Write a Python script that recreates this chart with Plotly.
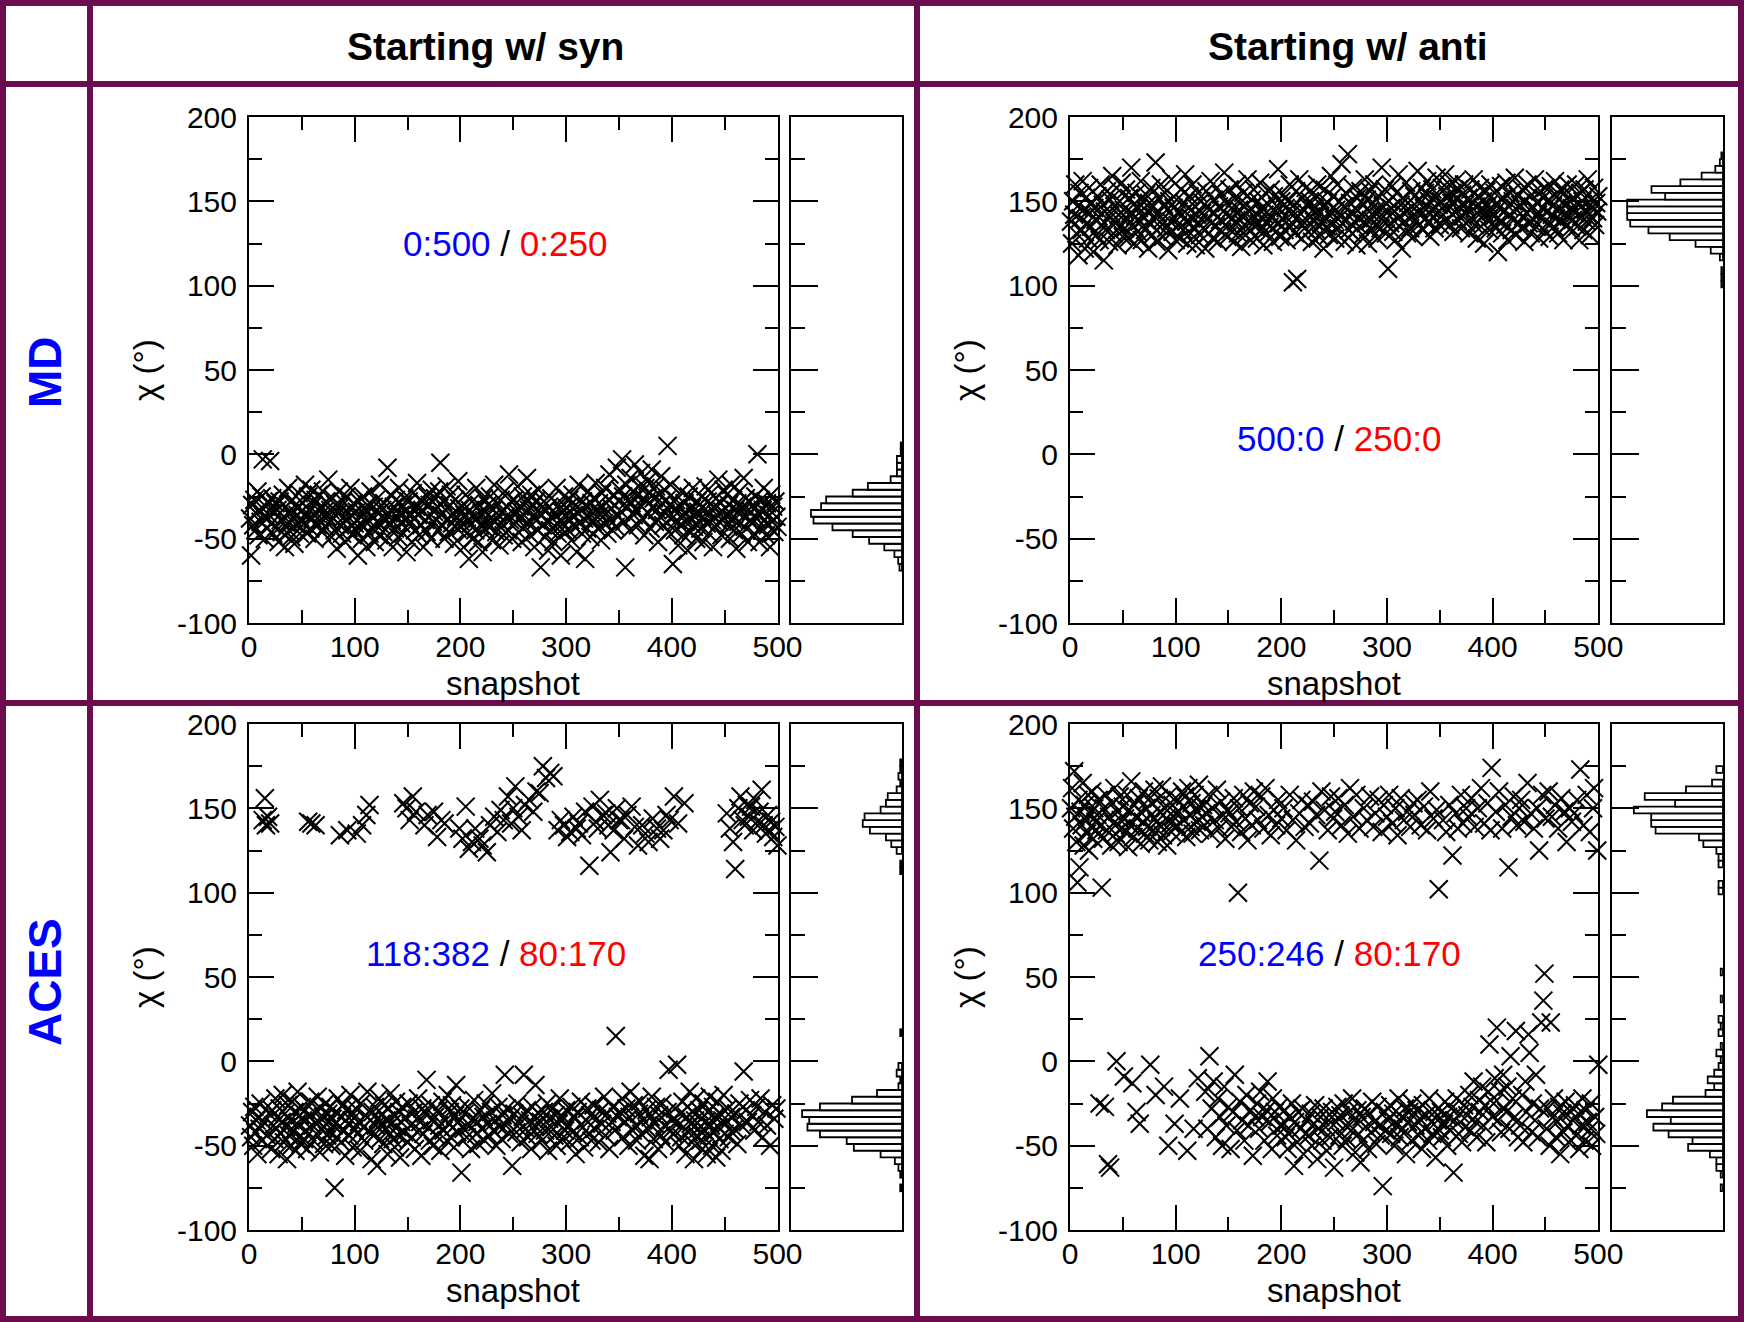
import numpy as np
import plotly.graph_objects as go

# ---------------- data (chi angle in degrees, one value per snapshot) ----------------
md_syn_chi = [
 -38,-60,-30,-42,-27,-45,-35,-22,-48,-33,-40,-25,-3,-37,-50,-31,-44,-28,-36,-4,-41,-26,-47,-34,-29,
 -43,-33,-52,-28,-39,-46,-24,-37,-55,-31,-41,-20,-45,-35,-49,-27,-38,-53,-30,-42,-36,-23,-47,-34,-40,
 -29,-41,-18,-36,-47,-25,-33,-44,-21,-38,-30,-50,-27,-35,-42,-24,-39,-31,-46,-22,-34,-43,-28,-37,-15,
 -40,-33,-49,-26,-38,-45,-30,-56,-35,-22,-42,-31,-47,-28,-37,-52,-25,-39,-44,-32,-20,-36,-48,-29,-41,
 -45,-34,-60,-28,-41,-37,-50,-25,-43,-33,-55,-30,-39,-47,-22,-36,-44,-31,-52,-27,-40,-35,-48,-18,-42,
 -33,-46,-29,-38,-51,-8,-35,-42,-24,-39,-55,-31,-44,-27,-37,-49,-20,-36,-41,-30,-47,-26,-34,-58,-38,
 -28,-41,-35,-52,-23,-38,-45,-31,-17,-36,-48,-27,-42,-33,-55,-29,-39,-46,-25,-37,-30,-50,-21,-40,-34,
 -26,-39,-31,-45,-22,-5,-36,-42,-28,-50,-33,-19,-38,-46,-30,-24,-41,-35,-53,-27,-37,-44,-16,-32,-40,
 -43,-31,-55,-36,-24,-47,-39,-62,-33,-41,-28,-50,-37,-45,-20,-38,-52,-30,-42,-35,-58,-26,-44,-34,-40,
 -30,-43,-25,-38,-51,-33,-18,-40,-46,-29,-36,-54,-27,-41,-34,-48,-22,-37,-31,-45,-12,-39,-28,-50,-35,
 -27,-40,-34,-19,-46,-31,-38,-52,-25,-36,-43,-29,-14,-41,-33,-48,-24,-37,-30,-55,-28,-39,-45,-21,-35,
 -67,-36,-42,-28,-49,-33,-40,-57,-31,-45,-26,-38,-52,-35,-43,-20,-47,-30,-39,-60,-34,-41,-25,-46,-37,
 -32,-45,-27,-39,-51,-24,-36,-43,-30,-58,-35,-18,-41,-33,-47,-28,-38,-62,-31,-44,-22,-37,-49,-29,-40,
 -26,-38,-17,-33,-44,-29,-36,-51,-23,-31,-41,-20,-35,-47,-27,-12,-39,-32,-45,-24,-30,-43,-8,-37,-28,
 -21,-34,-3,-25,-40,-67,-18,-31,-27,-45,-14,-29,-22,-36,-6,-33,-24,-42,-19,-30,-11,-38,-26,-48,-20,
 -28,-16,-35,-23,-44,-9,-31,-26,-40,-19,-33,-52,-24,-37,-13,-29,-42,-21,-35,-27,5,-46,-30,-18,-38,
 -65,-33,-45,-27,-39,-54,-31,-42,-22,-36,-48,-29,-40,-35,-57,-25,-38,-46,-32,-20,-43,-37,-50,-28,-34,
 -30,-44,-25,-37,-52,-33,-19,-41,-28,-47,-35,-23,-39,-55,-31,-43,-26,-36,-15,-40,-29,-48,-34,-21,-38,
 -36,-24,-42,-30,-50,-18,-38,-27,-45,-33,-56,-29,-40,-22,-35,-47,-31,-14,-43,-26,-37,-52,-28,-39,-34,
 -41,-30,-47,-25,-38,0,-35,-52,-27,-44,-33,-20,-39,-48,-29,-42,-36,-55,-24,-40,-31,-46,-28,-37,-43,
]

md_anti_chi = [
 138,125,150,142,160,131,147,118,155,140,133,162,145,122,152,137,128,158,143,135,149,120,146,139,130,
 153,141,127,160,136,148,115,144,133,156,139,126,151,143,165,131,147,137,158,124,142,150,135,161,129,
 145,134,157,140,128,152,143,170,136,148,125,141,155,132,146,138,162,127,150,140,133,154,144,122,149,
 137,158,130,147,141,173,126,143,152,135,160,139,129,148,155,134,145,121,150,138,163,132,146,140,127,
 151,136,144,128,157,142,133,149,166,138,125,146,153,131,140,160,135,147,124,142,155,137,130,150,143,
 134,148,122,156,140,131,145,162,137,128,151,143,135,158,126,147,139,154,132,144,167,136,149,129,141,
 157,133,146,140,126,152,138,160,131,145,149,123,141,155,136,130,148,163,134,144,127,151,139,157,135,
 143,128,150,137,161,133,146,124,142,155,138,131,148,135,157,140,126,153,144,132,147,169,137,129,150,
 140,154,133,146,127,150,139,160,135,143,102,148,131,156,104,141,163,137,128,152,145,134,158,139,147,
 132,150,141,126,155,138,146,133,160,142,129,151,137,147,122,157,140,135,149,130,144,165,136,153,139,
 128,145,160,134,150,141,172,137,147,126,155,139,178,133,149,143,131,158,138,146,124,152,140,135,156,
 142,130,148,163,137,151,125,144,156,139,133,149,160,136,145,128,153,141,134,170,147,138,157,131,143,
 110,150,137,146,159,132,144,127,155,140,166,135,148,122,152,143,138,161,131,149,145,134,156,141,129,
 153,139,147,168,136,151,142,158,133,146,155,140,162,137,150,129,145,157,141,134,152,164,143,148,136,
 150,158,142,147,166,138,153,145,160,136,149,155,132,144,162,151,139,157,146,134,154,141,160,148,137,
 145,152,131,157,140,149,163,136,147,128,153,142,158,135,146,150,125,143,156,139,148,133,160,144,137,
 141,155,134,149,120,146,138,159,131,152,144,136,161,127,147,142,155,133,150,139,164,130,145,153,137,
 148,134,157,141,126,150,143,160,137,145,131,154,147,139,163,135,149,142,128,156,140,146,152,133,158,
 144,137,151,129,159,142,147,135,162,140,153,131,145,157,138,149,127,155,143,136,160,141,150,134,146,
 139,152,143,160,135,148,127,155,141,150,133,157,145,138,163,142,130,151,146,140,158,136,149,144,153,
]

aces_syn_chi = [
 -38,-45,-30,-50,-27,-42,-35,-55,-33,-40,-25,-47,143,-36,156,140,-44,145,-31,141,-52,-29,-38,-46,-22,
 -40,-33,-55,-28,-43,-36,-20,-48,-31,-39,-58,-26,-44,-35,-50,-24,-41,-30,-53,-37,-18,-45,-32,-49,-27,
 -35,-46,-29,-41,-52,142,-33,-24,141,-38,-47,-30,140,-43,-21,-36,-54,-28,-40,-33,-49,-25,-37,-44,-31,
 -42,-27,-50,-34,-38,-75,-30,-45,-22,-39,134,-48,-33,-26,-41,-56,-29,137,-37,-44,-20,-35,-51,-31,-40,
 -28,135,-43,-36,-53,-25,140,-39,-47,-32,146,-18,-41,152,-35,-58,-30,-44,-27,-38,-62,-34,-22,-46,-37,
 -31,-49,-26,-40,-35,-55,-28,-43,-19,-37,-46,-32,-51,-24,-39,-44,-30,-57,-36,-27,153,-42,-33,150,-48,
 -25,143,-38,-45,157,-30,-52,148,-34,-22,-41,-36,-56,-28,-43,140,-31,-11,146,-39,-47,-26,-35,-50,148,
 -33,-44,133,-29,-38,-53,143,-24,-41,141,-35,-47,-20,-37,-30,-45,-26,-39,-51,-32,-14,-42,-36,138,-28,
 -66,132,-40,-31,151,-45,-27,126,-38,-52,130,-34,-23,138,-43,-36,-49,132,-29,-40,128,-33,-47,-25,124,
 -37,-44,140,-30,-19,-41,145,-35,-50,136,-27,-39,149,-46,-32,143,-8,-38,-28,157,-43,-34,141,-62,150,
 -31,163,-42,-25,145,-37,-48,137,-33,-8,152,-40,-29,-45,155,-35,-52,-27,148,-38,-14,160,-43,-31,159,
 -36,-47,175,-30,-41,168,-25,-53,-34,171,-39,-28,169,-44,-32,-50,137,-37,-22,143,-46,-33,140,-41,-29,
 133,-38,-48,136,-27,-42,145,-33,-55,138,-30,141,-45,-24,134,-39,-51,148,-35,-28,-43,116,-32,-47,151,
 -26,-40,142,-34,138,-48,155,-29,-37,146,-21,-44,147,-31,140,-52,124,-36,-27,137,-41,15,150,-33,143,
 -30,143,-22,-45,132,-36,-28,146,-50,-33,-18,151,-41,-26,139,-38,-47,128,-31,-24,-43,140,-35,-56,135,
 -29,-40,130,-58,-33,-21,144,-46,-37,-27,138,-52,-32,132,-44,-25,137,-38,-48,146,-30,-5,143,-41,-35,
 -43,157,-28,-36,-2,141,-50,-31,-45,-24,-39,153,-55,-33,-27,-42,-18,-37,-48,-30,-58,-35,-22,-44,-40,
 -29,-47,-34,-52,-25,-41,-36,-55,-30,-44,-21,-38,-50,-27,-42,-33,-57,-24,-39,-46,-31,-53,-35,-20,-43,
 -37,147,-28,-45,138,-33,-42,130,-40,114,-31,-49,150,-25,157,-38,143,-6,140,-29,152,-36,145,-23,151,
 -32,137,-41,155,-27,142,-36,148,-22,161,-45,140,-30,135,-38,146,137,-50,142,-26,133,-34,139,-28,128,
]

aces_anti_chi = [
 150,162,138,172,145,130,106,155,115,148,140,165,128,152,143,135,158,125,147,139,160,132,150,142,137,
 146,155,-25,140,103,132,150,-27,158,137,-61,145,-63,128,153,141,162,135,0,148,130,157,143,138,151,
 -9,144,136,158,127,149,140,166,-13,133,152,145,-30,138,156,-37,129,147,142,160,135,150,139,155,131,
 -2,146,153,137,161,-20,142,130,156,148,139,163,134,-15,150,144,128,-50,158,141,136,152,145,-37,147,
 140,155,148,-22,136,160,151,143,157,133,-53,162,146,139,153,135,-40,158,149,142,-10,164,137,150,145,
 152,140,-18,147,-40,158,3,135,-28,150,-12,143,-45,161,-22,138,-33,154,-50,146,-15,132,-38,149,-27,
 147,-52,139,-30,156,-8,142,-41,100,150,-24,136,-35,158,-47,144,-20,131,-38,153,-29,140,-56,160,-33,
 151,-25,143,-40,-18,157,-33,138,-47,162,-29,-12,146,-36,134,-52,-22,149,-30,140,-44,155,-27,-38,144,
 -38,150,-29,-45,137,-52,-33,158,-41,-25,143,-62,-36,131,-48,-30,147,-40,155,-28,-55,139,-43,-35,152,
 -44,141,-31,-50,154,-37,-26,146,-58,-40,119,-33,160,-47,-28,149,-39,-53,137,-35,-45,157,-30,144,-63,
 148,-36,-27,156,-44,-32,140,-50,-25,152,-38,-46,135,-30,162,-41,-22,145,-35,-54,158,-29,-43,138,-60,
 -33,-47,150,-28,-39,143,-52,-31,157,-42,-24,139,-36,147,-49,-27,155,-38,-44,136,-74,152,-30,-41,145,
 -35,158,-26,-43,141,-31,-50,150,-38,134,-22,-45,156,-33,-40,143,-28,-55,148,-36,-30,139,-47,-25,153,
 146,-38,-29,155,-44,-34,140,-52,-26,151,-40,-32,137,-47,-22,160,-36,-43,144,-30,-57,149,-35,102,-41,
 -30,-45,143,-37,-24,136,-50,-33,152,-41,-28,122,-66,-35,147,-22,138,-43,-31,158,-48,141,-26,-39,150,
 -32,145,-20,-41,156,-27,-12,139,-36,-45,150,-23,-30,162,-15,-38,141,-26,-48,153,-18,10,137,174,-33,
 -25,-10,148,20,-35,160,-18,-42,138,-8,-28,152,-30,-15,115,-40,3,145,-22,157,-33,18,140,-45,150,
 -38,155,-20,-48,142,-12,-30,165,16,5,147,-42,-25,138,-35,-8,150,-45,125,-28,23,158,36,52,144,
 -40,-28,160,-50,23,145,-33,-22,152,-45,-36,138,-27,-55,156,-31,-42,148,-24,130,-38,-48,150,-30,142,
 -35,147,-26,-44,155,-31,-52,173,-38,-22,140,-47,-29,158,-36,-41,136,-25,-50,150,162,-33,-43,125,-2,
]

col_titles = ["Starting w/ syn", "Starting w/ anti"]
row_titles = ["MD", "ACES"]
ratio_blue = ["0:500", "500:0", "118:382", "250:246"]
ratio_red = ["0:250", "250:0", "80:170", "80:170"]
ratio_pos = [(242, 125), (255, 9.5), (234, 64), (246, 64)]   # (snapshot, chi) of label centres

snap_tick_vals = [0, 100, 200, 300, 400, 500]
snap_tick_text = ["0", "100", "200", "300", "400", "500"]
snap_minor = [50, 150, 250, 350, 450]
chi_tick_vals = [-100, -50, 0, 50, 100, 150, 200]
chi_tick_text = ["-100", "-50", "0", "50", "100", "150", "200"]
chi_minor = [-75, -25, 25, 75, 125, 175]
hist_edges = np.arange(-101, 205, 4)
hist_peak_frac = [0.82, 0.86, 0.90, 0.80]

# ---------------- layout geometry (pixels) ----------------
W, H = 1744, 1322
FONT = "Liberation Sans, Arial, Helvetica, sans-serif"
FRAME = "#6c0c4c"
fx = lambda p: p / W
fy = lambda p: 1 - p / H

cols = [dict(sx=(249, 777.5), hx=(791, 902)), dict(sx=(1070, 1598.3), hx=(1611.6, 1722.9))]
rows = [(117, 623), (724, 1230)]
series = [md_syn_chi, md_anti_chi, aces_syn_chi, aces_anti_chi]

fig = go.Figure()
layout = dict(template="none", width=W, height=H, autosize=False,
              margin=dict(l=0, r=0, t=0, b=0, pad=0),
              paper_bgcolor="white", plot_bgcolor="white", showlegend=False,
              font=dict(family=FONT, color="black"))
annotations = []

tick_common = dict(ticks="inside", ticklen=25, tickwidth=2, tickcolor="black",
                   showline=True, linewidth=2, linecolor="black",
                   showgrid=False, zeroline=False, automargin=False)

for i, vals in enumerate(series):
    r, c = divmod(i, 2)
    n_s, n_h = 2 * i + 1, 2 * i + 2
    xs = "" if n_s == 1 else str(n_s)
    y0, y1 = rows[r]
    sx0, sx1 = cols[c]["sx"]
    hx0, hx1 = cols[c]["hx"]
    ydom = [fy(y1), fy(y0)]
    snaps = list(range(1, len(vals) + 1))

    fig.add_trace(go.Scatter(
        x=snaps, y=vals, mode="markers", xaxis="x" + xs, yaxis="y" + xs,
        cliponaxis=False,
        marker=dict(symbol="x-thin-open", size=18, color="black",
                    line=dict(color="black", width=2))))

    counts, _ = np.histogram(vals, bins=hist_edges)
    centers = hist_edges[:-1] + 2
    m = counts > 0
    fig.add_trace(go.Bar(
        y=centers[m], x=counts[m], orientation="h", width=4,
        xaxis="x%d" % n_h, yaxis="y%d" % n_h,
        marker=dict(color="white", line=dict(color="black", width=1.8))))
    rmax = counts.max() / hist_peak_frac[i]

    layout["xaxis" + xs] = dict(
        domain=[fx(sx0), fx(sx1)], range=[0, 500], anchor="y" + xs,
        tickmode="array", tickvals=snap_tick_vals, ticktext=snap_tick_text,
        mirror="ticks", ticklabelstandoff=-4,
        minor=dict(tickmode="array", tickvals=snap_minor, ticks="inside",
                   ticklen=13, tickwidth=2, tickcolor="black"),
        tickfont=dict(size=30, family=FONT, color="black"), **tick_common)
    layout["yaxis" + xs] = dict(
        domain=ydom, range=[-100, 200], anchor="x" + xs,
        tickmode="array", tickvals=chi_tick_vals, ticktext=chi_tick_text,
        mirror="ticks", ticklabelstandoff=4,
        minor=dict(tickmode="array", tickvals=chi_minor, ticks="inside",
                   ticklen=13, tickwidth=2, tickcolor="black"),
        tickfont=dict(size=30, family=FONT, color="black"), **tick_common)
    layout["xaxis%d" % n_h] = dict(
        domain=[fx(hx0), fx(hx1)], range=[rmax, 0], anchor="y%d" % n_h,
        showline=True, linewidth=2, linecolor="black", mirror=True,
        ticks="", showticklabels=False, showgrid=False, zeroline=False,
        automargin=False)
    layout["yaxis%d" % n_h] = dict(
        domain=ydom, range=[-100, 200], anchor="x%d" % n_h,
        tickmode="array", tickvals=chi_tick_vals, showticklabels=False,
        mirror=True,
        minor=dict(tickmode="array", tickvals=chi_minor, ticks="inside",
                   ticklen=14, tickwidth=2, tickcolor="black"),
        **{**tick_common, "ticklen": 27})

    # axis titles
    annotations.append(dict(text="snapshot", x=fx((sx0 + sx1) / 2), y=fy(y1 + 60),
                            xref="paper", yref="paper", showarrow=False,
                            xanchor="center", yanchor="middle",
                            font=dict(size=33, family=FONT, color="black")))
    annotations.append(dict(text="χ (°)", x=fx(sx0 - 104), y=fy((y0 + y1) / 2),
                            xref="paper", yref="paper", showarrow=False, textangle=-90,
                            xanchor="center", yanchor="middle",
                            font=dict(size=33, family=FONT, color="black")))
    # population ratio label
    px, py = ratio_pos[i]
    annotations.append(dict(
        text='<span style="color:#0000ff">%s</span> / <span style="color:#ff0000">%s</span>'
             % (ratio_blue[i], ratio_red[i]),
        x=px, y=py, xref="x" + xs, yref="y" + xs, showarrow=False,
        xanchor="center", yanchor="middle",
        font=dict(size=35, family=FONT, color="black")))

# column and row headers
for txt, xc in zip(col_titles, [485, 1348]):
    annotations.append(dict(text="<b>%s</b>" % txt, x=fx(xc), y=fy(46), xref="paper", yref="paper",
                            showarrow=False, xanchor="center", yanchor="middle",
                            font=dict(size=39, family=FONT, color="black")))
for txt, yc in zip(row_titles, [372, 982]):
    annotations.append(dict(text="<b>%s</b>" % txt, x=fx(45), y=fy(yc), xref="paper", yref="paper",
                            showarrow=False, textangle=-90, xanchor="center", yanchor="middle",
                            font=dict(size=46, family=FONT, color="#0000ff")))

# table frame
shapes = []
def line(x0, y0, x1, y1):
    shapes.append(dict(type="line", xref="paper", yref="paper",
                       x0=fx(x0), y0=fy(y0), x1=fx(x1), y1=fy(y1),
                       line=dict(color=FRAME, width=6)))
shapes.append(dict(type="rect", xref="paper", yref="paper", x0=fx(3), y0=fy(1319),
                   x1=fx(1741), y1=fy(3), line=dict(color=FRAME, width=6)))
line(90, 3, 90, 1319)
line(917, 3, 917, 1319)
line(3, 84, 1741, 84)
line(3, 703, 1741, 703)

layout["annotations"] = annotations
layout["shapes"] = shapes
fig.update_layout(**layout)
fig.write_html("out.html", config={"displayModeBar": False},
               post_script="document.body.style.margin='0';document.body.style.overflow='hidden';")
